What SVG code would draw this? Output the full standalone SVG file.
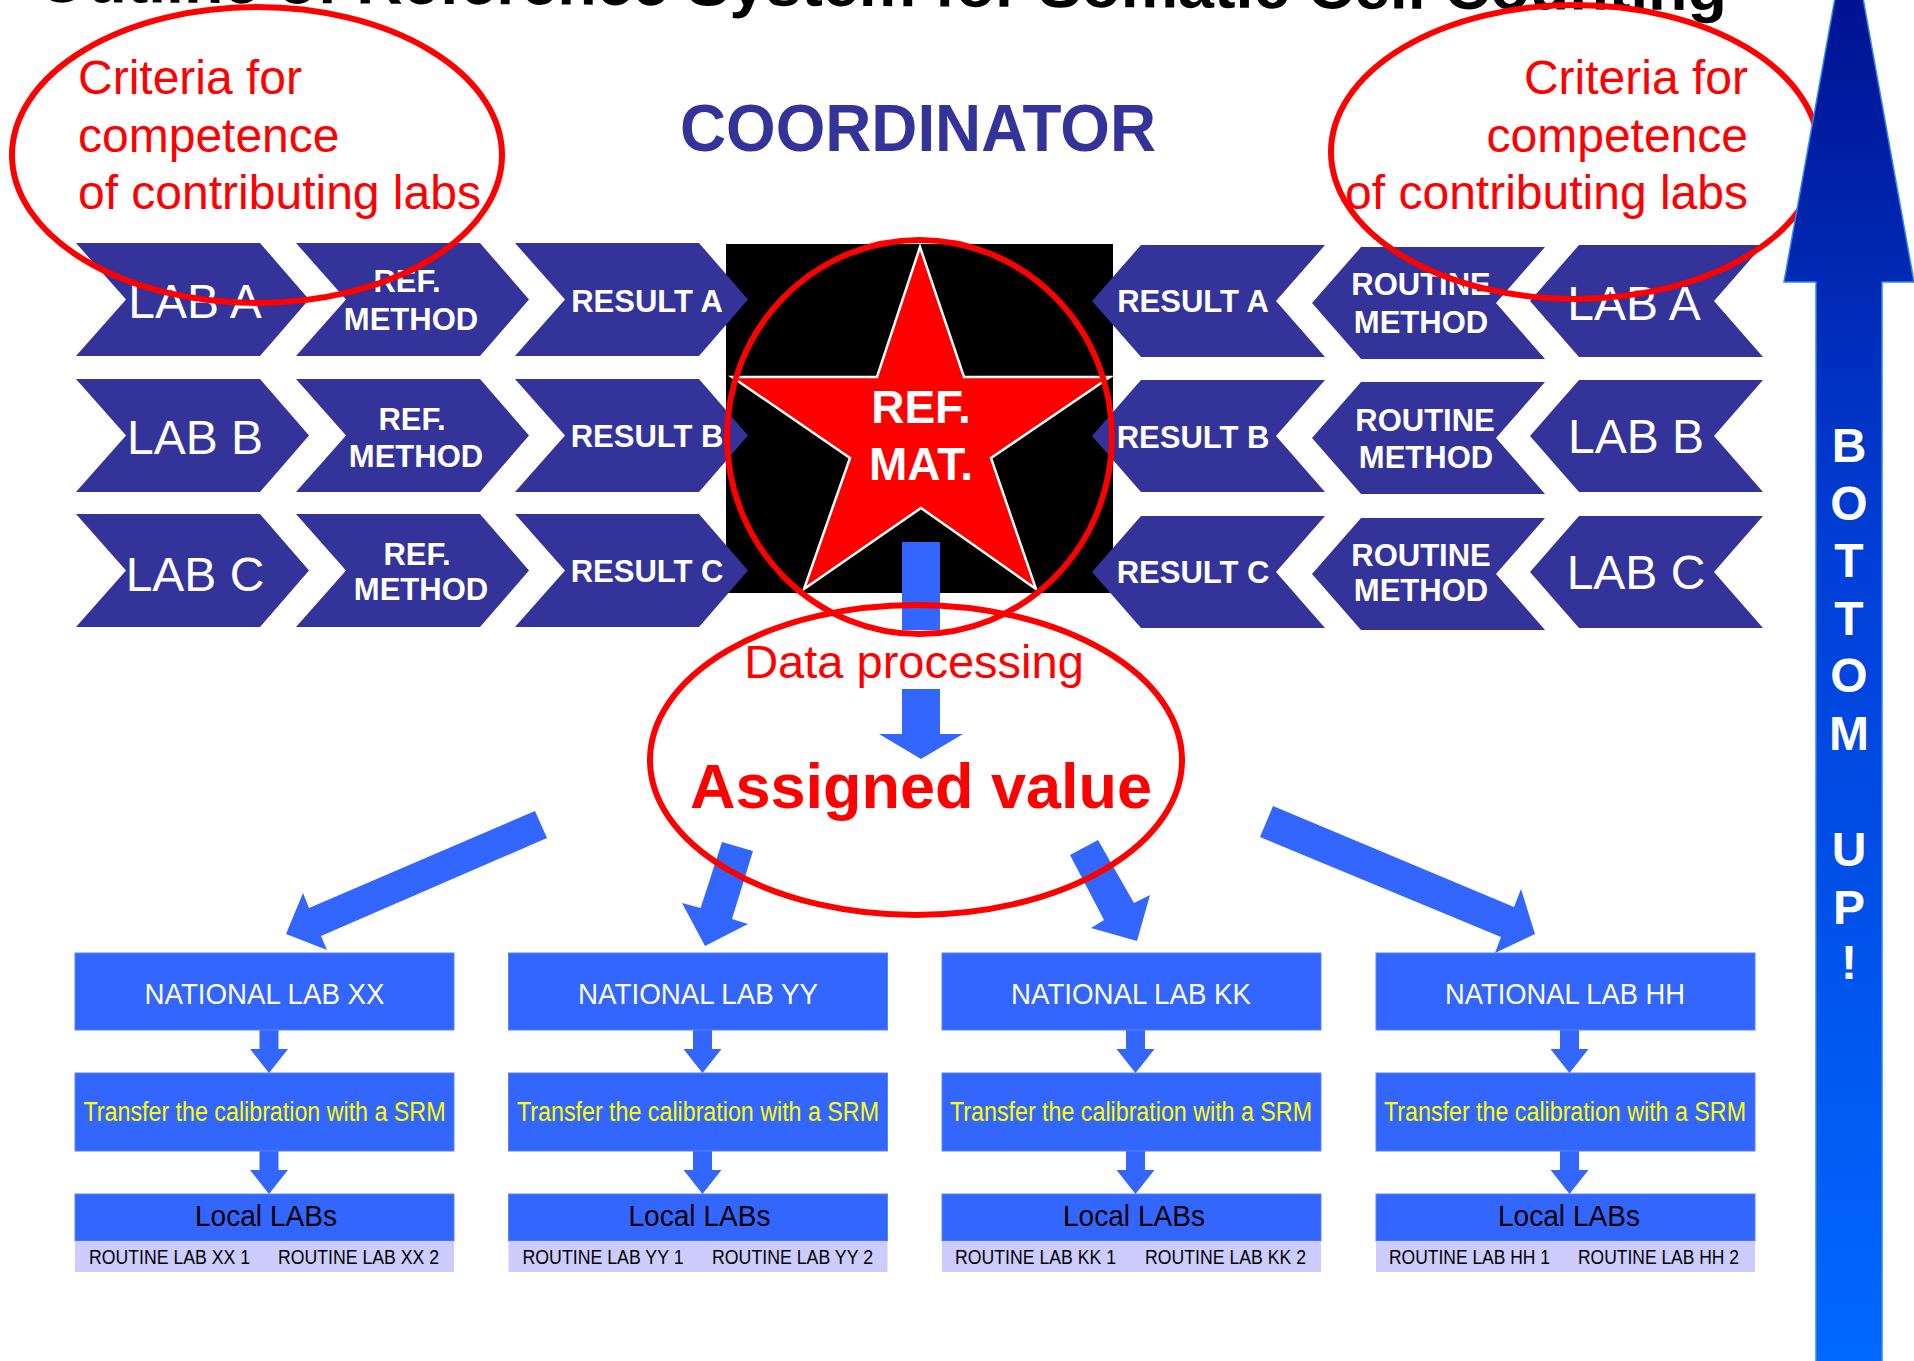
<svg xmlns="http://www.w3.org/2000/svg" width="1914" height="1361" viewBox="0 0 1914 1361">
  <defs>
    <style>
      .sans { font-family: "Liberation Sans", Arial, sans-serif; }
      .chev { fill: #333399; }
      .chev-lab { font-family: "Liberation Sans", Arial, sans-serif; font-size: 48px; fill: #ffffff; text-anchor: middle; }
      .chev-bold { font-family: "Liberation Sans", Arial, sans-serif; font-size: 31px; font-weight: bold; fill: #ffffff; text-anchor: middle; }
      .ring { fill: none; stroke: #ff0000; stroke-width: 6; }
      .crit { font-family: "Liberation Sans", Arial, sans-serif; font-size: 48px; fill: #ff0000; }
      .flow { fill: #3366ff; }
      .box { fill: #3366ff; stroke: #5a82ff; stroke-width: 1; }
      .strip { fill: #ccccff; }
      .nat { font-family: "Liberation Sans", Arial, sans-serif; font-size: 29px; fill: #ffffff; text-anchor: middle; }
      .srm { font-family: "Liberation Sans", Arial, sans-serif; font-size: 27px; fill: #ffff00; text-anchor: middle; }
      .local { font-family: "Liberation Sans", Arial, sans-serif; font-size: 30px; fill: #000000; text-anchor: middle; }
      .routine { font-family: "Liberation Sans", Arial, sans-serif; font-size: 20px; fill: #000000; }
      .up { font-family: "Liberation Sans", Arial, sans-serif; font-size: 48px; font-weight: bold; fill: #ffffff; text-anchor: middle; }
    </style>
    <!-- chevron pointing right, origin at left edge / top -->
    <polygon id="chevR" points="0,0 184,0 233,56.5 184,113 0,113 50,56.5"/>
    <!-- chevron pointing left, origin at tip x / top -->
    <polygon id="chevL" points="0,56 49,0 233,0 184,56 233,112 49,112"/>
    <!-- small downward arrow between boxes -->
    <polygon id="down" points="-9.5,0 9.5,0 9.5,19 19,19 0,43 -19,19 -9.5,19"/>
    <linearGradient id="upGrad" x1="0" y1="-80" x2="0" y2="1361" gradientUnits="userSpaceOnUse">
      <stop offset="0" stop-color="#000c88"/>
      <stop offset="0.45" stop-color="#0040d8"/>
      <stop offset="1" stop-color="#0068ff"/>
    </linearGradient>
  </defs>

  <rect x="0" y="0" width="1914" height="1361" fill="#ffffff"/>

  <!-- title, mostly above the top edge -->
  <g id="title">
    <text class="sans" x="37" y="2" font-size="62" font-weight="bold" fill="#000000" textLength="1690" lengthAdjust="spacingAndGlyphs" transform="rotate(0.28 37 2)">Outline of Reference System for Somatic Cell Counting</text>
  </g>

  <!-- coordinator heading -->
  <g id="coordinator">
    <text class="sans" x="918" y="151" font-size="66" font-weight="bold" fill="#333399" text-anchor="middle" textLength="476" lengthAdjust="spacingAndGlyphs">COORDINATOR</text>
  </g>

  <!-- reference material: black panel with red star -->
  <g id="ref-mat">
    <rect x="726" y="244" width="387" height="349" fill="#000000"/>
    <polygon points="920,247 964,377 1110,377 991,458 1036,589 921,508 804,589 850,458 732,377 877,377" fill="#ff0000" stroke="#ffffff" stroke-width="2.5" stroke-linejoin="miter"/>
    <text class="sans" x="921" y="423" font-size="46" font-weight="bold" fill="#ffffff" text-anchor="middle">REF.</text>
    <text class="sans" x="921" y="480" font-size="46" font-weight="bold" fill="#ffffff" text-anchor="middle">MAT.</text>
  </g>

  <!-- left side: labs using the reference method -->
  <g id="lab-a-left"><use href="#chevR" class="chev" x="76" y="243"/><text class="chev-lab" x="195" y="318">LAB A</text></g>
  <g id="lab-b-left"><use href="#chevR" class="chev" x="76" y="379"/><text class="chev-lab" x="195" y="454">LAB B</text></g>
  <g id="lab-c-left"><use href="#chevR" class="chev" x="76" y="514"/><text class="chev-lab" x="195" y="591">LAB C</text></g>

  <g id="ref-method-a"><use href="#chevR" class="chev" x="296" y="243"/><text class="chev-bold" x="407" y="292">REF.</text><text class="chev-bold" x="411" y="330">METHOD</text></g>
  <g id="ref-method-b"><use href="#chevR" class="chev" x="296" y="379"/><text class="chev-bold" x="412" y="430">REF.</text><text class="chev-bold" x="416" y="467">METHOD</text></g>
  <g id="ref-method-c"><use href="#chevR" class="chev" x="296" y="514"/><text class="chev-bold" x="417" y="565">REF.</text><text class="chev-bold" x="421" y="600">METHOD</text></g>

  <g id="result-a-left"><use href="#chevR" class="chev" x="515" y="243"/><text class="chev-bold" x="647" y="312">RESULT A</text></g>
  <g id="result-b-left"><use href="#chevR" class="chev" x="515" y="379"/><text class="chev-bold" x="647" y="447">RESULT B</text></g>
  <g id="result-c-left"><use href="#chevR" class="chev" x="515" y="514"/><text class="chev-bold" x="647" y="582">RESULT C</text></g>

  <!-- right side: labs using routine methods -->
  <g id="result-a-right"><use href="#chevL" class="chev" x="1092" y="245"/><text class="chev-bold" x="1193" y="312">RESULT A</text></g>
  <g id="result-b-right"><use href="#chevL" class="chev" x="1092" y="380"/><text class="chev-bold" x="1193" y="448">RESULT B</text></g>
  <g id="result-c-right"><use href="#chevL" class="chev" x="1092" y="516"/><text class="chev-bold" x="1193" y="583">RESULT C</text></g>

  <g id="routine-method-a"><use href="#chevL" class="chev" x="1312" y="247"/><text class="chev-bold" x="1421" y="295">ROUTINE</text><text class="chev-bold" x="1421" y="333">METHOD</text></g>
  <g id="routine-method-b"><use href="#chevL" class="chev" x="1312" y="382"/><text class="chev-bold" x="1425" y="431">ROUTINE</text><text class="chev-bold" x="1426" y="468">METHOD</text></g>
  <g id="routine-method-c"><use href="#chevL" class="chev" x="1312" y="518"/><text class="chev-bold" x="1421" y="566">ROUTINE</text><text class="chev-bold" x="1421" y="601">METHOD</text></g>

  <g id="lab-a-right"><use href="#chevL" class="chev" x="1530" y="245"/><text class="chev-lab" x="1634" y="320">LAB A</text></g>
  <g id="lab-b-right"><use href="#chevL" class="chev" x="1530" y="380"/><text class="chev-lab" x="1636" y="453">LAB B</text></g>
  <g id="lab-c-right"><use href="#chevL" class="chev" x="1530" y="516"/><text class="chev-lab" x="1636" y="589">LAB C</text></g>

  <!-- connectors: flow arrows -->
  <g id="connectors">
    <rect class="flow" x="902" y="542" width="38" height="88"/>
    <polygon class="flow" points="902,689 940,689 940,734 963,734 921,759 879,734 902,734"/>
    <polygon class="flow" points="535,811 547,838 321,936 327,950 286,934 303,893 309,908"/>
    <polygon class="flow" points="722,842 753,851 732,919 748,924 705,946 682,903 700.6,908"/>
    <polygon class="flow" points="1070,855 1098,840 1134,903 1150,895 1137,941 1091,928 1104,920"/>
    <polygon class="flow" points="1273,806 1260,837 1501,937 1495,953 1535,934 1521,889 1514,907"/>
    <use href="#down" class="flow" x="269" y="1030"/>
    <use href="#down" class="flow" x="269" y="1151"/>
    <use href="#down" class="flow" x="702.5" y="1030"/>
    <use href="#down" class="flow" x="702.5" y="1151"/>
    <use href="#down" class="flow" x="1135.5" y="1030"/>
    <use href="#down" class="flow" x="1135.5" y="1151"/>
    <use href="#down" class="flow" x="1569.5" y="1030"/>
    <use href="#down" class="flow" x="1569.5" y="1151"/>
  </g>

  <!-- data processing and assigned value -->
  <g id="assigned-value">
    <text class="sans" x="914" y="678" font-size="47" fill="#ff0000" text-anchor="middle">Data processing</text>
    <text class="sans" x="921" y="808" font-size="63" font-weight="bold" fill="#ff0000" text-anchor="middle">Assigned value</text>
  </g>

  <!-- red rings -->
  <g id="criteria-left">
    <ellipse class="ring" cx="257" cy="155" rx="245" ry="148"/>
    <text class="crit" x="78" y="94">Criteria for</text>
    <text class="crit" x="78" y="152">competence</text>
    <text class="crit" x="78" y="209">of contributing labs</text>
  </g>
  <g id="criteria-right">
    <ellipse class="ring" cx="1575" cy="152" rx="244" ry="147"/>
    <text class="crit" x="1748" y="94" text-anchor="end">Criteria for</text>
    <text class="crit" x="1748" y="152" text-anchor="end">competence</text>
    <text class="crit" x="1748" y="209" text-anchor="end">of contributing labs</text>
  </g>
  <ellipse class="ring" cx="919.5" cy="437" rx="192.5" ry="197"/>
  <ellipse class="ring" cx="916" cy="760" rx="266" ry="155"/>

  <!-- national chains -->
  <g id="national-xx">
    <rect class="box" x="75" y="953" width="379" height="77"/>
    <text class="nat" x="264.5" y="1004" textLength="240" lengthAdjust="spacingAndGlyphs">NATIONAL LAB XX</text>
    <rect class="box" x="75" y="1073" width="379" height="78"/>
    <text class="srm" x="264.5" y="1121" textLength="362" lengthAdjust="spacingAndGlyphs">Transfer the calibration with a SRM</text>
    <rect class="box" x="75" y="1194" width="379" height="47"/>
    <rect class="strip" x="75" y="1241" width="379" height="31"/>
    <text class="local" x="266" y="1226" textLength="142" lengthAdjust="spacingAndGlyphs">Local LABs</text>
    <text class="routine" x="89" y="1264" textLength="161" lengthAdjust="spacingAndGlyphs">ROUTINE LAB XX 1</text>
    <text class="routine" x="278" y="1264" textLength="161" lengthAdjust="spacingAndGlyphs">ROUTINE LAB XX 2</text>
  </g>
  <g id="national-yy">
    <rect class="box" x="508.5" y="953" width="379" height="77"/>
    <text class="nat" x="698" y="1004" textLength="240" lengthAdjust="spacingAndGlyphs">NATIONAL LAB YY</text>
    <rect class="box" x="508.5" y="1073" width="379" height="78"/>
    <text class="srm" x="698" y="1121" textLength="362" lengthAdjust="spacingAndGlyphs">Transfer the calibration with a SRM</text>
    <rect class="box" x="508.5" y="1194" width="379" height="47"/>
    <rect class="strip" x="508.5" y="1241" width="379" height="31"/>
    <text class="local" x="699.5" y="1226" textLength="142" lengthAdjust="spacingAndGlyphs">Local LABs</text>
    <text class="routine" x="522.5" y="1264" textLength="161" lengthAdjust="spacingAndGlyphs">ROUTINE LAB YY 1</text>
    <text class="routine" x="712" y="1264" textLength="161" lengthAdjust="spacingAndGlyphs">ROUTINE LAB YY 2</text>
  </g>
  <g id="national-kk">
    <rect class="box" x="942" y="953" width="379" height="77"/>
    <text class="nat" x="1131" y="1004" textLength="240" lengthAdjust="spacingAndGlyphs">NATIONAL LAB KK</text>
    <rect class="box" x="942" y="1073" width="379" height="78"/>
    <text class="srm" x="1131" y="1121" textLength="362" lengthAdjust="spacingAndGlyphs">Transfer the calibration with a SRM</text>
    <rect class="box" x="942" y="1194" width="379" height="47"/>
    <rect class="strip" x="942" y="1241" width="379" height="31"/>
    <text class="local" x="1134" y="1226" textLength="142" lengthAdjust="spacingAndGlyphs">Local LABs</text>
    <text class="routine" x="955" y="1264" textLength="161" lengthAdjust="spacingAndGlyphs">ROUTINE LAB KK 1</text>
    <text class="routine" x="1145" y="1264" textLength="161" lengthAdjust="spacingAndGlyphs">ROUTINE LAB KK 2</text>
  </g>
  <g id="national-hh">
    <rect class="box" x="1376" y="953" width="379" height="77"/>
    <text class="nat" x="1565" y="1004" textLength="240" lengthAdjust="spacingAndGlyphs">NATIONAL LAB HH</text>
    <rect class="box" x="1376" y="1073" width="379" height="78"/>
    <text class="srm" x="1565" y="1121" textLength="362" lengthAdjust="spacingAndGlyphs">Transfer the calibration with a SRM</text>
    <rect class="box" x="1376" y="1194" width="379" height="47"/>
    <rect class="strip" x="1376" y="1241" width="379" height="31"/>
    <text class="local" x="1569" y="1226" textLength="142" lengthAdjust="spacingAndGlyphs">Local LABs</text>
    <text class="routine" x="1389" y="1264" textLength="161" lengthAdjust="spacingAndGlyphs">ROUTINE LAB HH 1</text>
    <text class="routine" x="1578" y="1264" textLength="161" lengthAdjust="spacingAndGlyphs">ROUTINE LAB HH 2</text>
  </g>

  <!-- bottom-up arrow -->
  <g id="bottom-up">
    <polygon points="1849,-80 1914,282 1882,282 1882,1370 1816,1370 1816,282 1784,282" fill="url(#upGrad)" stroke="#2f86f0" stroke-width="1.5"/>
    <text class="up" x="1849" y="462">B</text>
    <text class="up" x="1849" y="520">O</text>
    <text class="up" x="1849" y="577">T</text>
    <text class="up" x="1849" y="635">T</text>
    <text class="up" x="1849" y="692">O</text>
    <text class="up" x="1849" y="750">M</text>
    <text class="up" x="1849" y="866">U</text>
    <text class="up" x="1849" y="924">P</text>
    <text class="up" x="1849" y="979">!</text>
  </g>
</svg>
